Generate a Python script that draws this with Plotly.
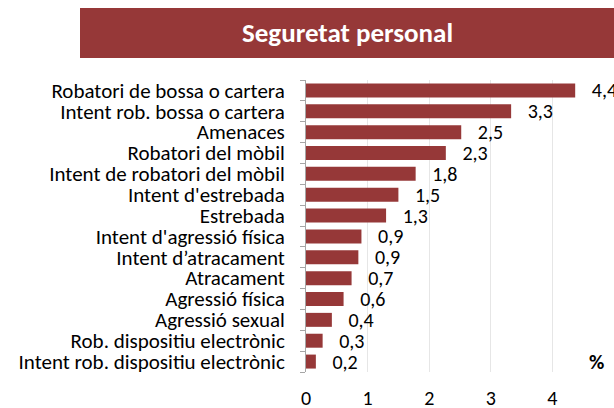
import plotly.graph_objects as go

categories = ["Robatori de bossa o cartera", "Intent rob. bossa o cartera", "Amenaces",
              "Robatori del mòbil", "Intent de robatori del mòbil", "Intent d'estrebada",
              "Estrebada", "Intent d'agressió física", "Intent d’atracament", "Atracament",
              "Agressió física", "Agressió sexual", "Rob. dispositiu electrònic",
              "Intent rob. dispositiu electrònic"]
values = [4.37, 3.33, 2.52, 2.27, 1.78, 1.5, 1.3, 0.9, 0.85, 0.74, 0.61, 0.42, 0.27, 0.16]
value_labels = ["4,4", "3,3", "2,5", "2,3", "1,8", "1,5", "1,3", "0,9", "0,9", "0,7", "0,6", "0,4", "0,3", "0,2"]
x_ticks = [0, 1, 2, 3, 4, 5]
title = "Seguretat personal"

W, H = 614, 408
L, R, T, B = 306, 0, 80, 36
pw, ph = W - L - R, H - T - B
def px(x): return (x - L) / pw
def py(y): return (H - B - y) / ph

FONT = "Carlito, Calibri, Lato, sans-serif"
RED = "#963838"
FS = 20

fig = go.Figure()
fig.add_trace(go.Bar(
    y=categories, x=values, orientation="h",
    marker=dict(color=RED, line=dict(width=0)),
    text=["   " + v for v in value_labels], textposition="outside",
    textfont=dict(size=FS, color="#000000", family=FONT),
    constraintext="none", cliponaxis=False, hoverinfo="skip",
))

fig.update_layout(
    width=W, height=H, margin=dict(l=L, r=R, t=T, b=B, autoexpand=False),
    plot_bgcolor="white", paper_bgcolor="white",
    showlegend=False, bargap=0.33,
    font=dict(family=FONT, size=FS, color="#000000"),
    xaxis=dict(range=[0, 5], tickmode="array", tickvals=x_ticks,
               ticktext=[str(v) for v in x_ticks],
               showgrid=True, gridcolor="#e6e6e6", gridwidth=1, zeroline=False,
               showline=False, ticks="", ticklabelstandoff=12, automargin=False,
               tickfont=dict(size=FS, family=FONT)),
    yaxis=dict(categoryorder="array", categoryarray=categories, autorange="reversed",
               tickmode="array", tickvals=categories, ticktext=categories,
               showline=True, linecolor="#a6a6a6", linewidth=1, automargin=False,
               ticks="outside", tickson="boundaries", ticklen=5, tickcolor="#a6a6a6",
               ticklabelstandoff=16, tickfont=dict(size=21, family=FONT)),
    shapes=[dict(type="rect", xref="paper", yref="paper",
                 x0=px(80), x1=px(614), y0=py(58), y1=py(8),
                 fillcolor=RED, line=dict(width=0), layer="above")],
    annotations=[
        dict(text="<b>" + title + "</b>", xref="paper", yref="paper",
             x=px(347), y=py(33), xanchor="center", yanchor="middle", showarrow=False,
             font=dict(size=27, color="white", family=FONT)),
        dict(text="<b>%</b>", xref="paper", yref="paper",
             x=px(596), y=py(362), xanchor="center", yanchor="middle", showarrow=False,
             font=dict(size=21, color="#000000", family=FONT)),
    ],
)

fig.write_html("out.html", config={"displayModeBar": False},
               post_script="document.body.style.margin='0';")
